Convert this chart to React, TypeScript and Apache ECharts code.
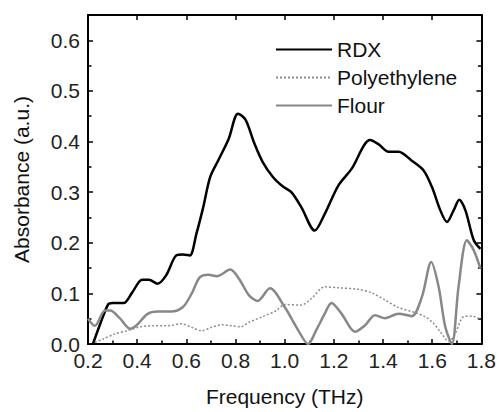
import React, { useEffect, useRef } from "react";
import * as echarts from "echarts";

const rdxFreq = [0.22, 0.25, 0.283, 0.30, 0.345, 0.38, 0.42, 0.448, 0.483, 0.517, 0.559, 0.586, 0.614, 0.641, 0.669, 0.697, 0.731, 0.772, 0.81, 0.841, 0.876, 0.91, 0.952, 0.993, 1.027, 1.068, 1.122, 1.163, 1.218, 1.272, 1.347, 1.381, 1.422, 1.463, 1.517, 1.565, 1.599, 1.633, 1.66, 1.687, 1.71, 1.735, 1.769, 1.796];
const rdxAbs = [0.0, 0.04, 0.079, 0.081, 0.081, 0.102, 0.127, 0.127, 0.119, 0.135, 0.175, 0.177, 0.175, 0.218, 0.271, 0.33, 0.364, 0.405, 0.455, 0.443, 0.397, 0.36, 0.33, 0.311, 0.3, 0.27, 0.224, 0.257, 0.313, 0.346, 0.403, 0.395, 0.38, 0.38, 0.362, 0.343, 0.31, 0.264, 0.241, 0.264, 0.285, 0.264, 0.205, 0.188];

const polyFreq = [0.228, 0.262, 0.31, 0.359, 0.414, 0.469, 0.524, 0.579, 0.621, 0.662, 0.703, 0.745, 0.786, 0.821, 0.855, 0.91, 0.966, 1.0, 1.068, 1.109, 1.163, 1.218, 1.299, 1.354, 1.408, 1.463, 1.531, 1.571, 1.605, 1.633, 1.667, 1.694, 1.728, 1.762, 1.796];
const polyAbs = [0.003, 0.01, 0.02, 0.026, 0.034, 0.036, 0.036, 0.04, 0.033, 0.026, 0.033, 0.038, 0.036, 0.034, 0.043, 0.054, 0.066, 0.078, 0.077, 0.09, 0.113, 0.111, 0.108, 0.101, 0.087, 0.072, 0.062, 0.054, 0.041, 0.024, 0.005, 0.021, 0.054, 0.055, 0.049];

const flourFreq = [0.2, 0.228, 0.269, 0.29, 0.331, 0.372, 0.4, 0.441, 0.483, 0.538, 0.586, 0.621, 0.655, 0.69, 0.724, 0.779, 0.814, 0.855, 0.89, 0.94, 1.0, 1.054, 1.095, 1.129, 1.163, 1.19, 1.231, 1.286, 1.327, 1.367, 1.408, 1.463, 1.517, 1.558, 1.596, 1.626, 1.653, 1.68, 1.707, 1.741, 1.769, 1.796];
const flourAbs = [0.05, 0.036, 0.066, 0.066, 0.05, 0.03, 0.038, 0.059, 0.064, 0.064, 0.073, 0.099, 0.132, 0.137, 0.134, 0.147, 0.129, 0.096, 0.085, 0.11, 0.073, 0.028, 0.0, 0.028, 0.06, 0.081, 0.06, 0.024, 0.037, 0.057, 0.051, 0.06, 0.055, 0.093, 0.162, 0.113, 0.034, 0.0, 0.113, 0.205, 0.185, 0.149];

const seriesNames = ["RDX", "Polyethylene", "Flour"];
const xTitle = "Frequency (THz)";
const yTitle = "Absorbance (a.u.)";

const zip = (xs: number[], ys: number[]) => xs.map((x, i) => [x, ys[i]]);

const FONT = "Liberation Sans, Arial, sans-serif";

export default function App() {
  const ref = useRef<HTMLDivElement>(null);
  useEffect(() => {
    if (!ref.current) return;
    const chart = echarts.init(ref.current, undefined, { renderer: "svg" });
    const baseX = {
      type: "value" as const,
      min: 0.2,
      max: 1.8,
      interval: 0.2,
      splitLine: { show: false },
      axisLine: { show: true, onZero: false, lineStyle: { color: "#000", width: 2 } },
    };
    const baseY = {
      type: "value" as const,
      min: 0,
      max: 0.65,
      interval: 0.1,
      splitLine: { show: false },
      axisLine: { show: true, onZero: false, lineStyle: { color: "#000", width: 2 } },
    };
    const fmt = (v: number) =>
      Math.abs(v * 10 - Math.round(v * 10)) < 1e-6 ? v.toFixed(1) : "";
    chart.setOption({
      animation: false,
      backgroundColor: "#fff",
      grid: { left: 88, right: 16, top: 15, bottom: 68 },
      legend: {
        data: seriesNames,
        orient: "vertical",
        left: 270,
        top: 34,
        itemWidth: 56,
        itemHeight: 14,
        itemGap: 7,
        itemStyle: { opacity: 0 },
        textStyle: { fontSize: 21, fontFamily: FONT, color: "#111" },
      },
      xAxis: [
        {
          ...baseX,
          position: "bottom",
          name: xTitle,
          nameLocation: "middle",
          nameGap: 42,
          nameTextStyle: { fontSize: 21, fontFamily: FONT, color: "#111" },
          axisTick: { show: true, inside: true, length: 5, lineStyle: { color: "#000", width: 1.5 } },
          minorTick: { show: true, splitNumber: 2, length: 3.5, lineStyle: { color: "#000", width: 1.5 } },
          axisLabel: { fontSize: 21, fontFamily: FONT, color: "#222", margin: 6, formatter: fmt },
        },
        {
          ...baseX,
          position: "top",
          axisTick: { show: true, inside: true, length: 5, lineStyle: { color: "#000", width: 1.5 } },
          axisLabel: { show: false },
        },
      ],
      yAxis: [
        {
          ...baseY,
          position: "left",
          name: yTitle,
          nameLocation: "middle",
          nameGap: 56,
          nameTextStyle: { fontSize: 21, fontFamily: FONT, color: "#111" },
          axisTick: { show: true, inside: true, length: 5, lineStyle: { color: "#000", width: 1.5 } },
          minorTick: { show: true, splitNumber: 2, length: 3.5, lineStyle: { color: "#000", width: 1.5 } },
          axisLabel: { fontSize: 21, fontFamily: FONT, color: "#222", margin: 8, formatter: fmt },
        },
        {
          ...baseY,
          position: "right",
          axisTick: { show: true, inside: true, length: 5, lineStyle: { color: "#000", width: 1.5 } },
          minorTick: { show: true, splitNumber: 2, length: 3.5, lineStyle: { color: "#000", width: 1.5 } },
          axisLabel: { show: false },
        },
      ],
      series: [
        {
          name: "RDX",
          type: "line",
          data: zip(rdxFreq, rdxAbs),
          smooth: 0.3,
          symbol: "none",
          lineStyle: { color: "#000", width: 2.5 },
          itemStyle: { color: "#000" },
        },
        {
          name: "Polyethylene",
          type: "line",
          data: zip(polyFreq, polyAbs),
          smooth: 0.3,
          symbol: "none",
          lineStyle: { color: "#8c8c8c", width: 1.5, type: [2, 2] },
          itemStyle: { color: "#8c8c8c" },
        },
        {
          name: "Flour",
          type: "line",
          data: zip(flourFreq, flourAbs),
          smooth: 0.3,
          symbol: "none",
          lineStyle: { color: "#888", width: 2.5 },
          itemStyle: { color: "#888" },
        },
      ],
    });
    return () => chart.dispose();
  }, []);
  return (
    <div
      ref={ref}
      style={{ position: "fixed", left: 0, top: 0, width: 499, height: 412 }}
    />
  );
}
